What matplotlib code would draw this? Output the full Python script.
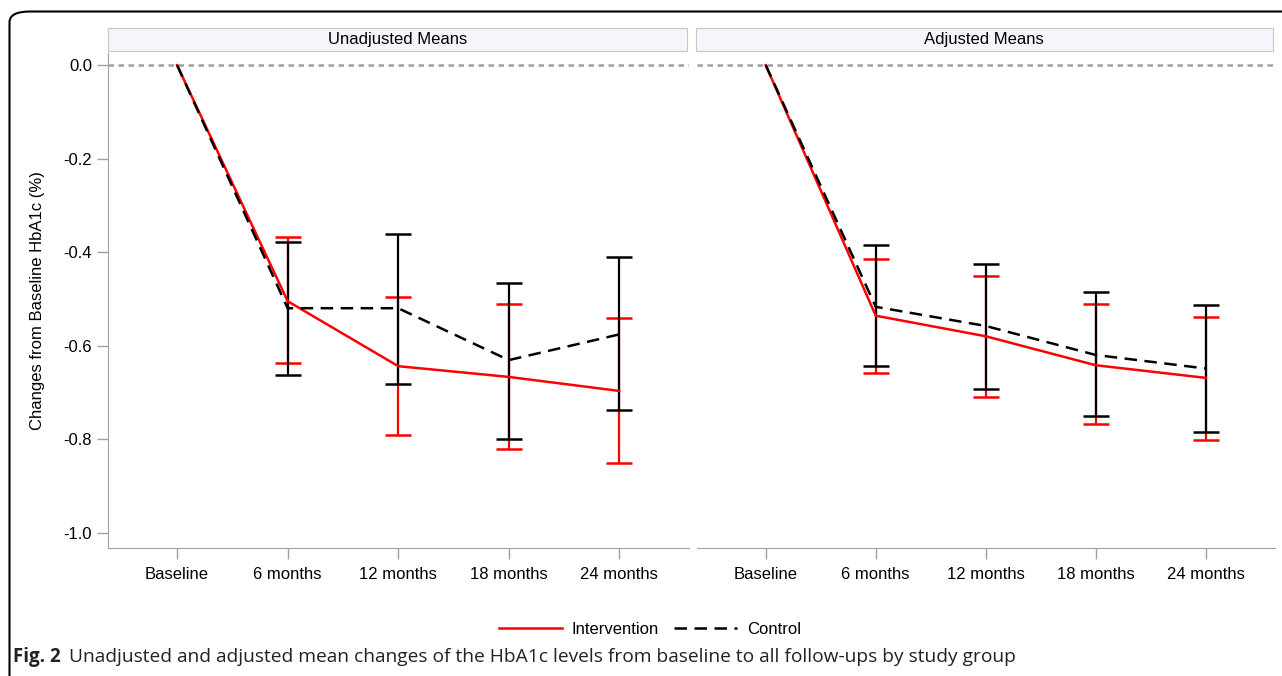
import numpy as np
import matplotlib
matplotlib.use('Agg')
import matplotlib.pyplot as plt
from matplotlib.patches import FancyBboxPatch

plt.rcParams['font.family'] = ['Liberation Sans', 'DejaVu Sans']

visits = ["Baseline", "6 months", "12 months", "18 months", "24 months"]

# Unadjusted means (value, lower CI, upper CI); baseline has no bar
unadj_int = [0.0, -0.505, -0.644, -0.667, -0.697]
unadj_int_lo = [np.nan, -0.638, -0.791, -0.822, -0.851]
unadj_int_hi = [np.nan, -0.367, -0.496, -0.510, -0.542]
unadj_ctl = [0.0, -0.520, -0.520, -0.631, -0.576]
unadj_ctl_lo = [np.nan, -0.663, -0.683, -0.800, -0.738]
unadj_ctl_hi = [np.nan, -0.378, -0.362, -0.466, -0.411]

# Adjusted means
adj_int = [0.0, -0.536, -0.580, -0.642, -0.669]
adj_int_lo = [np.nan, -0.658, -0.709, -0.768, -0.801]
adj_int_hi = [np.nan, -0.414, -0.451, -0.510, -0.538]
adj_ctl = [0.0, -0.517, -0.558, -0.620, -0.649]
adj_ctl_lo = [np.nan, -0.644, -0.692, -0.751, -0.784]
adj_ctl_hi = [np.nan, -0.385, -0.426, -0.485, -0.513]

W, H = 1282, 676
fig = plt.figure(figsize=(W / 100, H / 100), dpi=100)

def fx(px):
    return px / W

def fy(py):
    return 1 - py / H

axis_gray = '#a0a0a0'
panels = [
    ("Unadjusted Means", 108, 689, 108.5, 687,
     unadj_int, unadj_int_lo, unadj_int_hi, unadj_ctl, unadj_ctl_lo, unadj_ctl_hi),
    ("Adjusted Means", 697, 1275, 695.5, 1273,
     adj_int, adj_int_lo, adj_int_hi, adj_ctl, adj_ctl_lo, adj_ctl_hi),
]

x = np.arange(len(visits))
axes = []
for i, (title, l, r, sl, sr, mi, mil, mih, mc, mcl, mch) in enumerate(panels):
    ax = fig.add_axes([fx(l), fy(548), fx(r - l), fy(53) - fy(548)])
    axes.append(ax)
    mi, mil, mih = np.array(mi), np.array(mil), np.array(mih)
    mc, mcl, mch = np.array(mc), np.array(mcl), np.array(mch)

    ax.axhline(0, color=axis_gray, lw=1.8, dashes=(2.2, 1.8), zorder=1)

    ax.errorbar(x[1:], mi[1:], yerr=[mi[1:] - mil[1:], mih[1:] - mi[1:]], fmt='none',
                ecolor='#ff0000', elinewidth=1.6, capsize=9.5, capthick=1.8, zorder=2)
    ax.errorbar(x[1:], mc[1:], yerr=[mc[1:] - mcl[1:], mch[1:] - mc[1:]], fmt='none',
                ecolor='black', elinewidth=1.6, capsize=9.5, capthick=1.8, zorder=3)
    ax.plot(x, mi, color='#ff0000', lw=1.8, zorder=4, label='Intervention')
    ax.plot(x, mc, color='black', lw=1.8, dashes=(5, 3), zorder=5, label='Control')

    ax.set_xlim(-0.625, 4.63)
    ax.set_ylim(-1.033, 0.026)
    ax.set_xticks(x)
    ax.set_xticklabels(visits, fontsize=12)
    ax.set_yticks([0.0, -0.2, -0.4, -0.6, -0.8, -1.0])
    ax.set_yticklabels(['0.0', '-0.2', '-0.4', '-0.6', '-0.8', '-1.0'], fontsize=12)
    ax.tick_params(axis='both', color=axis_gray, length=8, width=1, direction='out')
    ax.tick_params(axis='x', pad=6)
    for s in ['top', 'right']:
        ax.spines[s].set_visible(False)
    ax.spines['bottom'].set_color(axis_gray)
    ax.spines['left'].set_color(axis_gray)
    if i == 1:
        ax.spines['left'].set_visible(False)
        ax.tick_params(axis='y', left=False, labelleft=False)

    # panel header strip
    sax = fig.add_axes([fx(sl), fy(51), fx(sr - sl), fy(28) - fy(51)])
    sax.set_facecolor('#f4f6fc')
    sax.set_xticks([])
    sax.set_yticks([])
    for s in sax.spines.values():
        s.set_color('#c8c8c8')
    sax.text(0.5, 0.5, title, ha='center', va='center', fontsize=12, transform=sax.transAxes)

axes[0].set_ylabel("Changes from Baseline HbA1c (%)", fontsize=12, labelpad=13)

h, lab = axes[0].get_legend_handles_labels()
fig.legend(h, lab, loc='center', bbox_to_anchor=(fx(650), fy(629)), ncol=2, frameon=False,
           fontsize=12, handlelength=3.8, columnspacing=0.9, handletextpad=0.6)

# outer frame of the figure panel
frame = FancyBboxPatch((fx(9.5), fy(700)), fx(1300), fy(11.5) - fy(700),
                       boxstyle='round,pad=0,rounding_size=0.016', transform=fig.transFigure,
                       fill=False, edgecolor='black', lw=1.5, clip_on=False)
fig.patches.append(frame)

fig.text(fx(13), fy(657), "Fig. 2", fontsize=13.5, fontweight='bold', family=['Open Sans', 'DejaVu Sans'],
         va='center', ha='left', color='#222222')
fig.text(fx(69), fy(657), "Unadjusted and adjusted mean changes of the HbA1c levels from baseline to all follow-ups by study group",
         fontsize=13.8, family=['Open Sans', 'DejaVu Sans'], va='center', ha='left', color='#222222')

fig.savefig('out.png', dpi=100)
